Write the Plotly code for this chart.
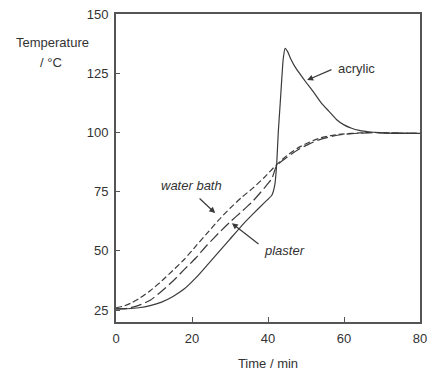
import plotly.graph_objects as go

# ---- data ----
acrylic_t = [0, 3, 6, 9, 12, 15, 18, 21, 24, 27, 30, 33, 36, 39, 41, 41.8, 42.3, 42.7, 43.2, 43.6, 44.0, 44.5,
             45.2, 46, 47, 48.5, 50, 52, 54, 56, 58, 60, 62, 64, 67, 70, 75, 80]
acrylic_T = [25.5, 25.6, 26.0, 26.9, 28.4, 30.8, 34.0, 38.6, 44, 49.5, 55, 60.5, 65.5, 70.3, 73.5, 78, 87, 100, 112, 122, 131, 135.5,
             134, 131, 128, 124.5, 121.2, 117, 112.5, 109, 105.5, 103.2, 101.8, 100.9, 100.2, 99.8, 99.6, 99.6]

water_t = [0, 2, 4, 6, 9, 12, 15, 18, 21, 24, 27, 30, 33, 36, 39, 42, 45, 48, 51, 54, 57, 60, 64, 68, 72, 80]
water_T = [26, 26.7, 28, 29.8, 33.2, 37.3, 41.8, 46.5, 52, 57.5, 63, 68, 72.5, 76.5, 81, 86, 90.3, 93.6, 96, 97.8, 98.8, 99.4, 99.8, 100, 99.8, 99.6]

plaster_t = [0, 3, 6, 9, 12, 15, 18, 21, 24, 27, 30, 33, 36, 39, 41, 42.3, 45, 48, 51, 54, 57, 60, 64, 68, 72, 80]
plaster_T = [25.5, 25.8, 27, 29.2, 33, 37.3, 42.2, 47, 52.5, 57.5, 62.2, 66.5, 71, 76.5, 80.5, 86, 89.5, 92.8, 95.3, 97.2, 98.4, 99.2, 99.7, 99.9, 99.8, 99.6]

x_ticks = [0, 20, 40, 60, 80]
y_ticks = [25, 50, 75, 100, 125, 150]

line_col = "#3a3a3a"
txt_col = "#333333"
font_fam = "Liberation Sans, Arial, sans-serif"
fs = 13

fig = go.Figure()
fig.add_trace(go.Scatter(x=water_t, y=water_T, mode="lines", name="water bath",
                         line=dict(color=line_col, width=1.2, dash="6px,3px", shape="spline", smoothing=0.6)))
fig.add_trace(go.Scatter(x=plaster_t, y=plaster_T, mode="lines", name="plaster",
                         line=dict(color=line_col, width=1.2, dash="11px,4px", shape="spline", smoothing=0.6)))
fig.add_trace(go.Scatter(x=acrylic_t, y=acrylic_T, mode="lines", name="acrylic",
                         line=dict(color=line_col, width=1.2, shape="spline", smoothing=0.4)))

ann = []
# text labels
ann.append(dict(x=58.0, y=127.2, text="acrylic", showarrow=False, xanchor="left",
                font=dict(size=fs, color=txt_col, family=font_fam)))
ann.append(dict(x=19.9, y=77.8, text="<i>water bath</i>", showarrow=False, xanchor="center",
                font=dict(size=fs, color=txt_col, family=font_fam)))
ann.append(dict(x=38.5, y=50.3, text="<i>plaster</i>", showarrow=False, xanchor="left",
                font=dict(size=fs, color=txt_col, family=font_fam)))
# arrows
for (tx, ty, hx, hy) in [(57.1, 126.8, 50.3, 122.1), (21.6, 72.7, 26.1, 66.0), (37.9, 52.4, 30.5, 61.7)]:
    ann.append(dict(x=hx, y=hy, ax=tx, ay=ty, axref="x", ayref="y", xref="x", yref="y",
                    text="", showarrow=True, arrowhead=2, arrowsize=1, arrowwidth=1.2,
                    arrowcolor=line_col))
# y axis title (two lines)
ann.append(dict(xref="paper", yref="paper", x=-0.2105, y=0.906, text="Temperature",
                showarrow=False, xanchor="center", yanchor="middle",
                font=dict(size=fs, color=txt_col, family=font_fam)))
ann.append(dict(xref="paper", yref="paper", x=-0.215, y=0.844, text="/ °C",
                showarrow=False, xanchor="center", yanchor="middle",
                font=dict(size=fs, color=txt_col, family=font_fam)))

fig.update_layout(
    width=429, height=371,
    margin=dict(l=116, r=9, t=14, b=49),
    paper_bgcolor="white", plot_bgcolor="white",
    showlegend=False,
    font=dict(family=font_fam, size=fs, color=txt_col),
    annotations=ann,
    xaxis=dict(range=[0, 80], tickvals=x_ticks, ticks="inside", ticklen=5, tickcolor="#555",
               showline=True, linecolor="#555", linewidth=2, mirror=True, showgrid=False,
               zeroline=False, automargin=False, ticklabeloverflow="allow", ticklabelstandoff=3,
               title=dict(text="Time / min", standoff=17, font=dict(size=fs, color=txt_col))),
    yaxis=dict(range=[20, 150], tickvals=y_ticks, ticks="inside", ticklen=4, tickcolor="#555",
               showline=True, linecolor="#555", linewidth=2, mirror=True, showgrid=False,
               zeroline=False, automargin=False, ticklabeloverflow="allow", ticklabelstandoff=3),
)

# remove the default 8px page margin so the figure fills the window exactly
fig.write_html("out.html", config={"displayModeBar": False},
               post_script="document.body.style.margin='0';")
